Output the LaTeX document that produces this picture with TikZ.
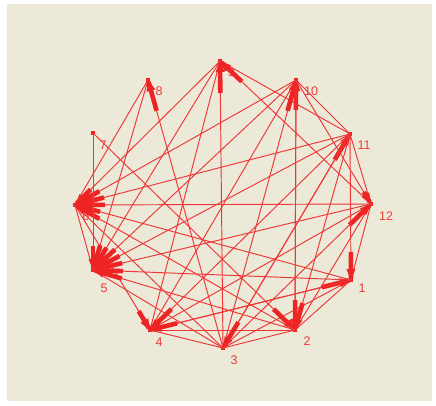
\documentclass[tikz,border=0pt]{standalone}
\usepackage{fontspec}
\setmainfont{Liberation Sans}
\usetikzlibrary{calc}
\definecolor{bg}{HTML}{ECE9D8}
\definecolor{ered}{HTML}{EE2424}
\begin{document}
\begin{tikzpicture}[x=1pt,y=-1pt,
  edge/.style={draw=ered!92, line width=0.95pt},
  head/.style={draw=ered, line width=4.6pt},
  lbl/.style={text=ered!90, font=\fontsize{12.5}{12.5}\selectfont, inner sep=0pt},
  vtx/.style={fill=ered, minimum size=4pt, inner sep=0pt}]
\useasboundingbox (0,0) rectangle (436,405);
\fill[white] (0,0) rectangle (436,405);
\fill[bg] (7,4) rectangle (432,401);
% vertices
\node[vtx] (n1) at (351,280) {};
\node[vtx] (n2) at (295,330) {};
\node[vtx] (n3) at (223,348) {};
\node[vtx] (n4) at (150,330) {};
\node[vtx] (n5) at (93,270) {};
\node[vtx] (n6) at (75,205) {};
\node[vtx] (n7) at (93,133) {};
\node[vtx] (n8) at (148,80) {};
\node[vtx] (n9) at (220,61) {};
\node[vtx] (n10) at (296,80) {};
\node[vtx] (n11) at (350,134) {};
\node[vtx] (n12) at (371,204) {};
% labels
\node[lbl] (l1) at (362,288) {1};
\node[lbl] (l2) at (307,341) {2};
\node[lbl] (l3) at (234,360) {3};
\node[lbl] (l4) at (159,342) {4};
\node[lbl] (l5) at (104,288) {5};
\node[lbl] (l6) at (86,216) {6};
\node[lbl] (l7) at (103,145) {7};
\node[lbl] (l8) at (159,91) {8};
\node[lbl] (l9) at (231,72) {9};
\node[lbl] (l10) at (311,91) {10};
\node[lbl] (l11) at (364,145) {11};
\node[lbl] (l12) at (386,216) {12};
% plain connections
\foreach \a/\b in {9/11, 9/4, 10/11, 10/4, 11/12, 12/4, 12/2, 12/1,
                   1/3, 1/2, 2/3, 2/4, 3/4, 3/5, 3/6, 5/6, 6/8}
  \draw[edge] (n\a.center) -- (n\b.center);
% directed connections: source/target/head length
\foreach \s/\t/\l in {3/9/32, 12/9/30, 2/10/30, 3/10/32, 3/11/30, 11/3/30, 3/12/30, 10/12/14,
                   11/1/28, 4/1/30, 1/4/28, 10/2/30, 7/2/30, 11/2/28, 11/4/30, 6/4/22,
                   12/6/30, 10/6/28, 2/6/28, 11/6/30, 9/6/22, 1/6/26,
                   9/5/26, 10/5/30, 11/5/30, 12/5/30, 1/5/30, 2/5/30, 7/5/24, 8/5/26, 3/8/32}
{
  \draw[edge] (n\s.center) -- (n\t.center);
  \draw[head] ($(n\t.center)!2pt!(n\s.center)$) -- ($(n\t.center)!\l pt!(n\s.center)$);
  \fill[ered] (n\t.center) -- ($($(n\t.center)!11pt!(n\s.center)$)!4.5pt!90:(n\s.center)$)
     -- ($($(n\t.center)!11pt!(n\s.center)$)!4.5pt!-90:(n\s.center)$) -- cycle;
}
\end{tikzpicture}
\end{document}
